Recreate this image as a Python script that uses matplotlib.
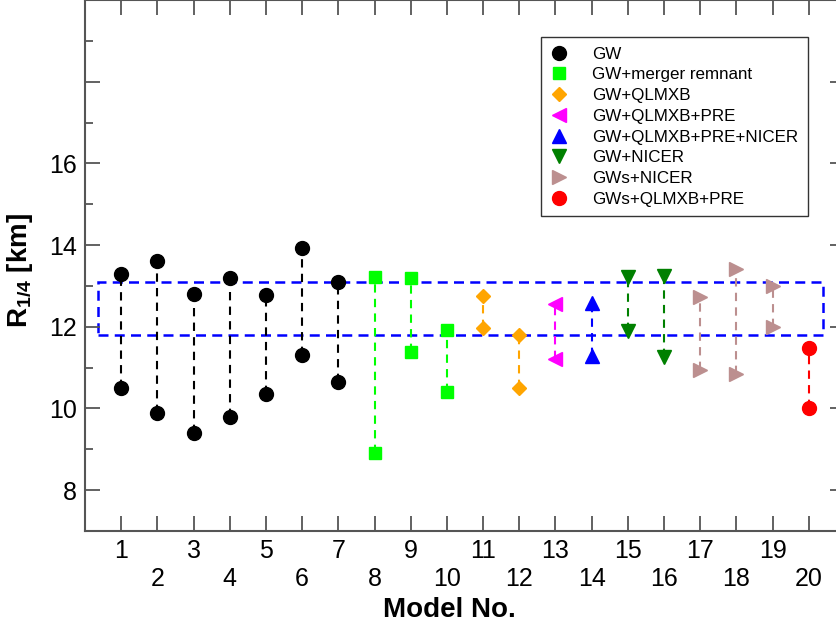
import matplotlib

matplotlib.use("Agg")
import matplotlib.pyplot as plt
from matplotlib.ticker import FixedLocator
from matplotlib.patches import Rectangle

plt.rcParams["font.family"] = ["Liberation Sans", "DejaVu Sans"]
plt.rcParams["mathtext.fontset"] = "custom"
plt.rcParams["mathtext.rm"] = "Liberation Sans"
plt.rcParams["mathtext.bf"] = "Liberation Sans:bold"

# 每个模型的 R_1/4 上下限 (km)
models = list(range(1, 21))
r_low = [10.50, 9.90, 9.40, 9.80, 10.35, 11.30, 10.64, 8.90, 11.39, 10.40,
         11.98, 10.49, 11.20, 11.28, 11.89, 11.27, 10.94, 10.85, 12.00, 10.00]
r_high = [13.30, 13.60, 12.80, 13.20, 12.77, 13.94, 13.09, 13.21, 13.20, 11.91,
          12.76, 11.81, 12.55, 12.58, 13.23, 13.25, 12.73, 13.42, 13.00, 11.49]
groups = ["GW"] * 7 + ["GW+merger remnant"] * 3 + ["GW+QLMXB"] * 2 + \
    ["GW+QLMXB+PRE", "GW+QLMXB+PRE+NICER"] + ["GW+NICER"] * 2 + \
    ["GWs+NICER"] * 3 + ["GWs+QLMXB+PRE"]

# 联合约束区间
band_x = [0.37, 20.38]
band_y = [11.80, 13.10]

styles = {
    "GW": ("black", "o", 10),
    "GW+merger remnant": ("#00ff00", "s", 8.5),
    "GW+QLMXB": ("#ffa500", "D", 7.5),
    "GW+QLMXB+PRE": ("#ff00ff", "<", 9.5),
    "GW+QLMXB+PRE+NICER": ("#0000ff", "^", 9.5),
    "GW+NICER": ("#008000", "v", 9.5),
    "GWs+NICER": ("#bc8f8f", ">", 9.5),
    "GWs+QLMXB+PRE": ("#ff0000", "o", 10),
}

fig = plt.figure(figsize=(8.37, 6.27), dpi=100)
ax = fig.add_axes([85 / 837, 96 / 627, 760 / 837, 531 / 627])

seen = set()
for x, lo, hi, g in zip(models, r_low, r_high, groups):
    color, marker, ms = styles[g]
    ax.plot([x, x], [lo, hi], color=color, lw=1.5, ls=(0, (4, 3)), zorder=2)
    label = g if g not in seen else None
    seen.add(g)
    ax.plot([x, x], [lo, hi], ls="none", marker=marker, ms=ms, color=color,
            mec=color, label=label, zorder=3)

ax.add_patch(Rectangle((band_x[0], band_y[0]), band_x[1] - band_x[0],
                       band_y[1] - band_y[0], fill=False, ec="#0000ff",
                       lw=1.8, ls=(0, (4, 2.5)), zorder=1))

ax.set_xlim(0, 21)
ax.set_ylim(7, 20)

ax.xaxis.set_major_locator(FixedLocator(models))
ax.set_xticklabels([str(m) if m % 2 else "\n" + str(m) for m in models])
ax.yaxis.set_major_locator(FixedLocator([8, 10, 12, 14, 16, 18]))
ax.yaxis.set_minor_locator(FixedLocator([9, 11, 13, 15, 17, 19]))
ax.set_yticklabels(["8", "10", "12", "14", "16", ""])

spine_c = "#555555"
for s in ax.spines.values():
    s.set_color(spine_c)
    s.set_linewidth(1.5)
ax.tick_params(which="both", direction="in", top=True, right=True,
               colors=spine_c, labelcolor="black", labelsize=18, width=1.3, pad=6)
ax.tick_params(which="major", length=10.5)
ax.tick_params(which="minor", length=5.5)
for t in ax.get_xticklabels():
    t.set_linespacing(1.2)

ax.set_xlabel("Model No.", fontsize=20, fontweight="bold")
ax.xaxis.set_label_coords(0.48, -0.125)
ax.set_ylabel(r"$\mathbf{R}_{\mathbf{1/4}}$ [km]", fontsize=20, fontweight="bold")
ax.yaxis.set_label_coords(-0.066, 0.49)

leg = ax.legend(loc="upper left", bbox_to_anchor=(0.6, 0.93), borderaxespad=0,
                fontsize=12.25, frameon=True, fancybox=False, edgecolor="black",
                handlelength=1.0, handletextpad=1.45, labelspacing=0.34,
                borderpad=0.55, numpoints=1)
leg.get_frame().set_linewidth(1.0)

fig.savefig("out.png", dpi=100)
plt.close(fig)
